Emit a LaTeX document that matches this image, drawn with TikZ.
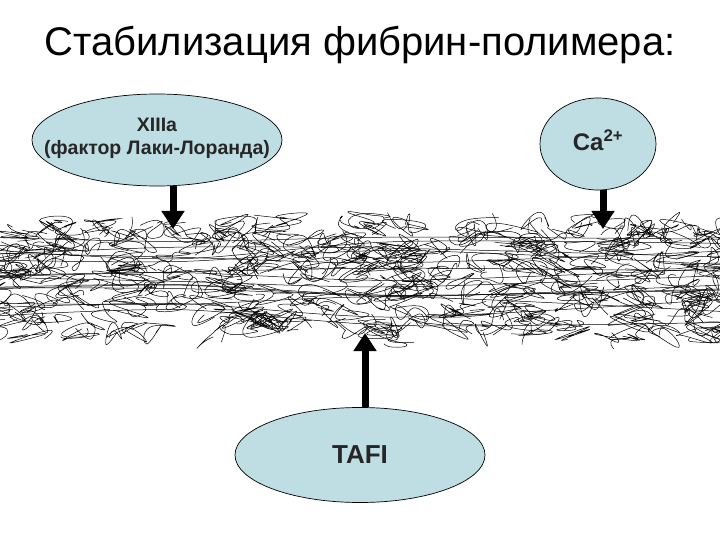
\documentclass[tikz,border=0pt]{standalone}
\usepackage{fontspec}
\setmainfont{Liberation Sans}
\usetikzlibrary{arrows.meta,shapes.geometric}
\definecolor{ell}{RGB}{190,222,228}
\begin{document}
\begin{tikzpicture}[x=1pt,y=-1pt,
  bub/.style={ellipse,draw=black,line width=0.7pt,fill=ell,inner sep=0pt},
  lbl/.style={text=black!85,align=center,inner sep=0pt},
  arr/.style={line width=7pt,-{Triangle[width=22pt,length=18pt]}},
  fib/.style={line width=0.5pt,black}]
\useasboundingbox (0,0) rectangle (720,540);
\node (title) at (360,45) {\fontsize{40pt}{46pt}\selectfont Стабилизация фибрин-полимера:};
% fibrin tangle
\pgfmathsetseed{11}
\begin{scope}
\clip (0,212) rectangle (720,352);
\foreach \i in {1,...,380}{
  \pgfmathsetmacro{\bx}{rnd*760-20}
  \pgfmathsetmacro{\by}{222+rnd*115}
  \pgfmathsetmacro{\ax}{\bx+rand*22}\pgfmathsetmacro{\ay}{\by+rand*12}
  \pgfmathsetmacro{\cx}{\bx+rand*22}\pgfmathsetmacro{\cy}{\by+rand*12}
  \pgfmathsetmacro{\dx}{\bx+rand*22}\pgfmathsetmacro{\dy}{\by+rand*12}
  \pgfmathsetmacro{\ex}{\bx+rand*22}\pgfmathsetmacro{\ey}{\by+rand*12}
  \pgfmathsetmacro{\fx}{\bx+rand*22}\pgfmathsetmacro{\fy}{\by+rand*12}
  \draw[fib] plot[smooth,tension=1] coordinates {(\bx,\by) (\ax,\ay) (\cx,\cy) (\dx,\dy) (\ex,\ey) (\fx,\fy)};
}
\foreach \i in {1,...,14}{
  \pgfmathsetmacro{\by}{235+rnd*85}
  \pgfmathsetmacro{\ya}{\by+rand*10}\pgfmathsetmacro{\yb}{\by+rand*10}\pgfmathsetmacro{\yc}{\by+rand*10}
  \draw[fib] plot[smooth] coordinates {(-5,\by) (180,\ya) (400,\yb) (725,\yc)};
}
\end{scope}
\node[bub,minimum width=250pt,minimum height=92pt] (f13) at (157,140) {};
\node[lbl,font=\bfseries\fontsize{19.5pt}{23pt}\selectfont] (f13t) at (157,138) {XIIIa\\(фактор Лаки-Лоранда)};
\node[bub,minimum width=116pt,minimum height=92pt] (ca) at (598,144) {};
\node[lbl,font=\bfseries\fontsize{24pt}{28pt}\selectfont] (cat) at (598,140) {Ca\textsuperscript{2+}};
\node[bub,minimum width=250pt,minimum height=95pt] (tafi) at (360,455) {};
\node[lbl,font=\bfseries\fontsize{26pt}{30pt}\selectfont] (tafit) at (360,455) {TAFI};
\coordinate (a1) at (173,229);
\coordinate (a2) at (603,229);
\coordinate (a3) at (365,333);
\draw[arr] (a1 |- f13.south) -- (a1);
\draw[arr] (a2 |- ca.south) -- (a2);
\draw[arr] (a3 |- tafi.north) -- (a3);
\end{tikzpicture}
\end{document}
